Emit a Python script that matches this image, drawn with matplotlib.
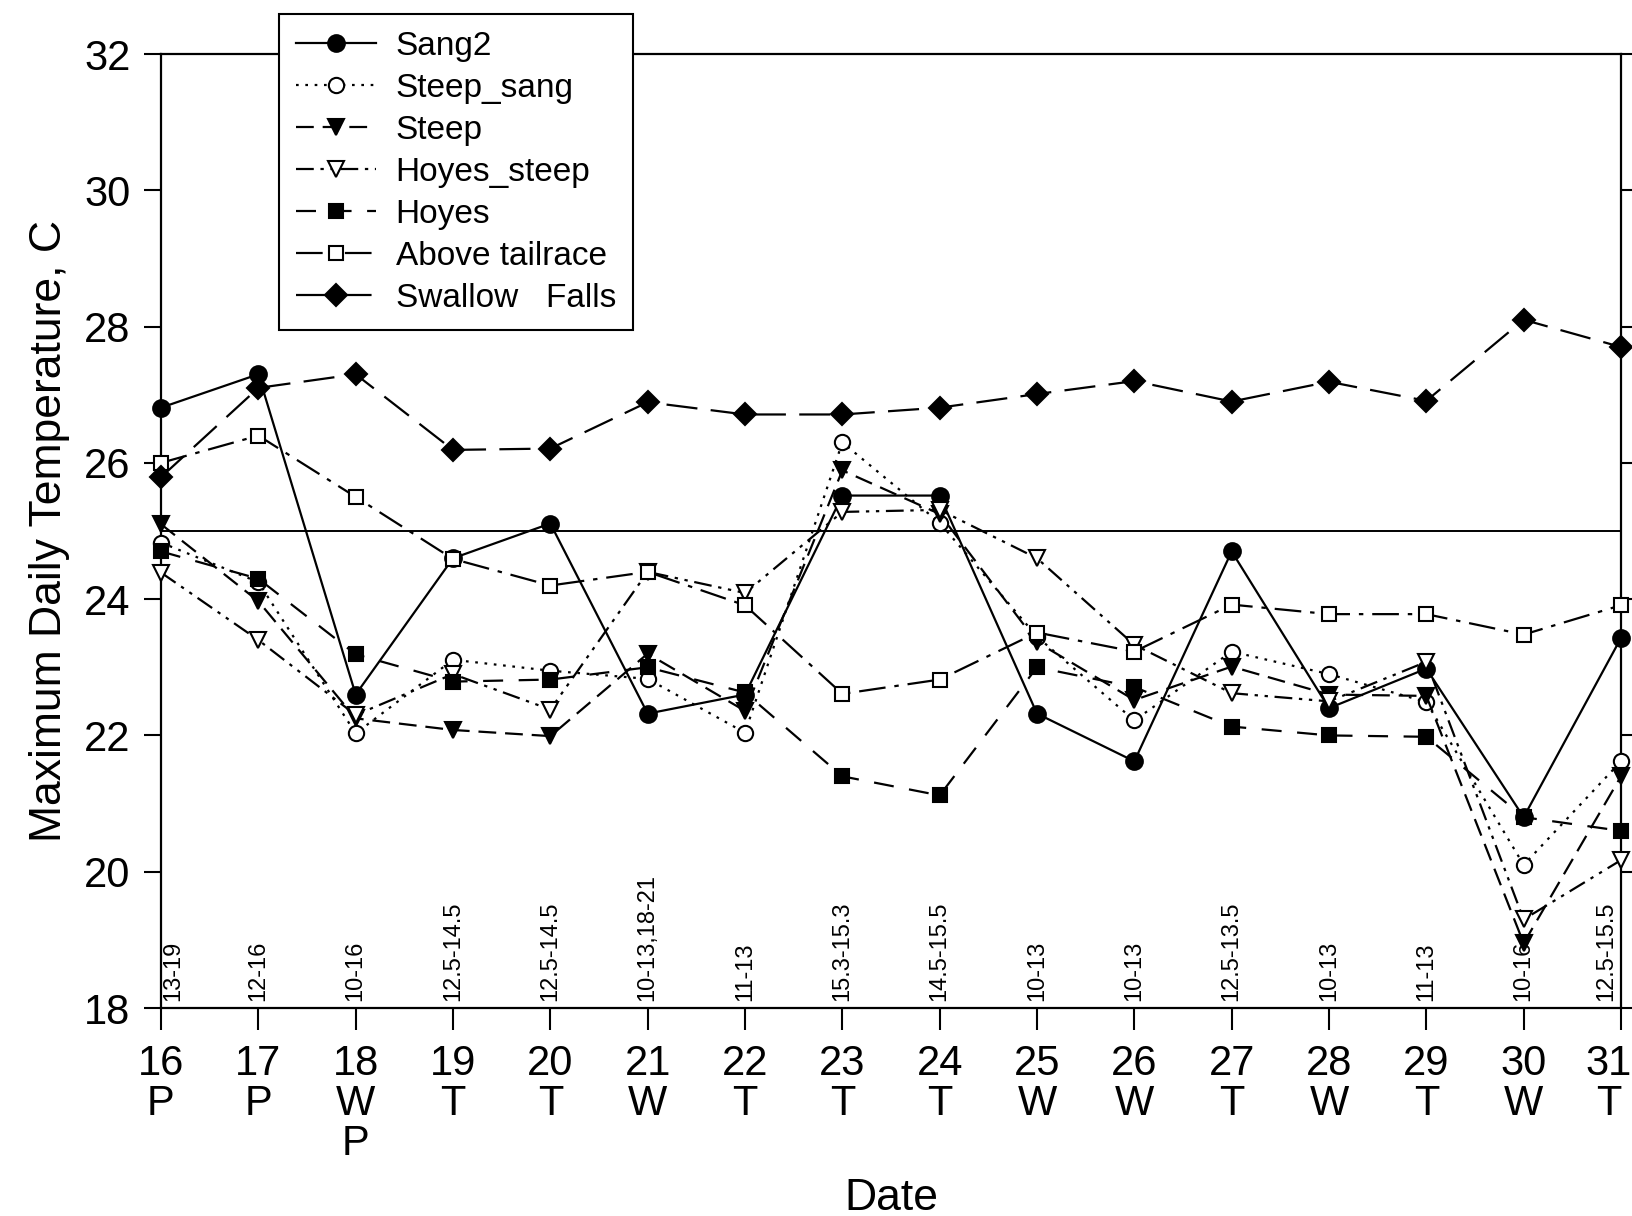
import matplotlib
matplotlib.use("Agg")
import matplotlib.pyplot as plt

days = list(range(16, 32))
day_letters = ["P", "P", "W\nP", "T", "T", "W", "T", "T", "T", "W", "W", "T", "W", "T", "W", "T"]
range_labels = ["13-19", "12-16", "10-16", "12.5-14.5", "12.5-14.5", "10-13,18-21", "11-13",
                "15.3-15.3", "14.5-15.5", "10-13", "10-13", "12.5-13.5", "10-13", "11-13",
                "10-16", "12.5-15.5"]

sang2 = [26.81, 27.30, 22.60, 24.60, 25.11, 22.32, 22.60, 25.52, 25.52, 22.32, 21.62, 24.70, 22.40, 22.98, 20.80, 23.43]
steep_sang = [24.83, 24.25, 22.03, 23.11, 22.95, 22.83, 22.04, 26.30, 25.12, 23.45, 22.22, 23.23, 22.90, 22.49, 20.10, 21.62]
steep = [25.10, 23.97, 22.25, 22.08, 21.99, 23.20, 22.36, 25.89, 25.25, 23.37, 22.52, 23.01, 22.60, 22.58, 18.95, 21.40]
hoyes_steep = [24.39, 23.40, 22.30, 22.90, 22.38, 24.40, 24.09, 25.28, 25.31, 24.60, 23.33, 22.62, 22.50, 23.08, 19.30, 20.17]
hoyes = [24.70, 24.30, 23.19, 22.79, 22.82, 23.00, 22.63, 21.40, 21.12, 23.00, 22.71, 22.13, 22.00, 21.98, 20.80, 20.60]
above_tailrace = [26.00, 26.40, 25.50, 24.59, 24.20, 24.40, 23.91, 22.61, 22.82, 23.51, 23.23, 23.92, 23.78, 23.78, 23.48, 23.91]
swallow_falls = [25.79, 27.10, 27.30, 26.19, 26.21, 26.89, 26.71, 26.71, 26.81, 27.01, 27.20, 26.90, 27.19, 26.91, 28.10, 27.70]

series_names = ["Sang2", "Steep_sang", "Steep", "Hoyes_steep", "Hoyes", "Above tailrace", "Swallow   Falls"]
series_values = [sang2, steep_sang, steep, hoyes_steep, hoyes, above_tailrace, swallow_falls]
ref_level = 25

styles = [
    dict(ls="-", marker="o", mfc="black", ms=12),
    dict(ls=(0, (1.2, 3)), marker="o", mfc="white", ms=11),
    dict(ls=(0, (8, 4)), marker="v", mfc="black", ms=12),
    dict(ls=(0, (8, 3, 1.5, 3, 1.5, 3)), marker="v", mfc="white", ms=12),
    dict(ls=(0, (9, 7)), marker="s", mfc="black", ms=10),
    dict(ls=(0, (12, 4, 2, 4)), marker="s", mfc="white", ms=10),
    dict(ls=(0, (14, 6)), marker="D", mfc="black", ms=11),
]

W, H = 1633, 1216
fig = plt.figure(figsize=(W / 100, H / 100), dpi=100)
ax = fig.add_axes([161 / W, 1 - 1008 / H, (1621 - 161) / W, (1008 - 54) / H])

fam = ["Liberation Sans", "DejaVu Sans"]

ax.axhline(ref_level, color="black", lw=1.4, zorder=1)

for name, vals, st in zip(series_names, series_values, styles):
    ax.plot(days, vals, color="black", lw=1.6, ls=st["ls"], marker=st["marker"],
            mfc=st["mfc"], mec="black", mew=1.5, ms=st["ms"], label=name,
            clip_on=False, zorder=3)

for i, (d, lab) in enumerate(zip(days, range_labels)):
    x = d
    if i == 0:
        x = d + 0.13
    elif i == len(days) - 1:
        x = d - 0.15
    ax.text(x, 18.1, lab, rotation=90, ha="center", va="bottom", fontsize=17,
            family=fam, zorder=2)

tick_len, tick_pad = 16, 10
xtick_texts = [f"{d}\n{l}" for d, l in zip(days, day_letters)]
ax.set_xlim(16, 31)
ax.set_ylim(18, 32)
ax.set_xticks(days)
ax.set_xticklabels(xtick_texts[:-1] + [""], linespacing=1.0)
ax.set_yticks(range(18, 33, 2))
for lab in ax.get_xticklabels() + ax.get_yticklabels():
    lab.set_family(fam)
    lab.set_fontsize(30)
# last date label nudged left so it stays inside the figure
ax.annotate(xtick_texts[-1], xy=(days[-1], 0), xycoords=ax.get_xaxis_transform(),
            xytext=(-9, -(tick_len + tick_pad)), textcoords="offset points",
            ha="center", va="top", fontsize=30, family=fam, linespacing=1.0,
            annotation_clip=False)
ax.tick_params(axis="x", direction="out", length=tick_len, width=1.5, pad=tick_pad)
ax.tick_params(axis="y", direction="out", length=12, width=1.5, pad=10)
ax.tick_params(axis="y", which="both", right=True, labelright=False)
for sp in ax.spines.values():
    sp.set_linewidth(1.6)

ax.set_ylabel("Maximum Daily Temperature, C", fontsize=32, family=fam, labelpad=10)
ax.set_xlabel("Date", fontsize=32, family=fam, labelpad=10)

leg = ax.legend(loc="upper left", bbox_to_anchor=(279 / W, 1 - 14 / H),
                bbox_transform=fig.transFigure, numpoints=1,
                prop={"family": fam, "size": 24}, frameon=True, fancybox=False,
                edgecolor="black", framealpha=1, handlelength=2.4, handletextpad=0.6,
                labelspacing=0.33, borderpad=0.5, borderaxespad=0)
leg.get_frame().set_linewidth(1.5)
leg.set_zorder(10)

fig.savefig("out.png", dpi=100)
